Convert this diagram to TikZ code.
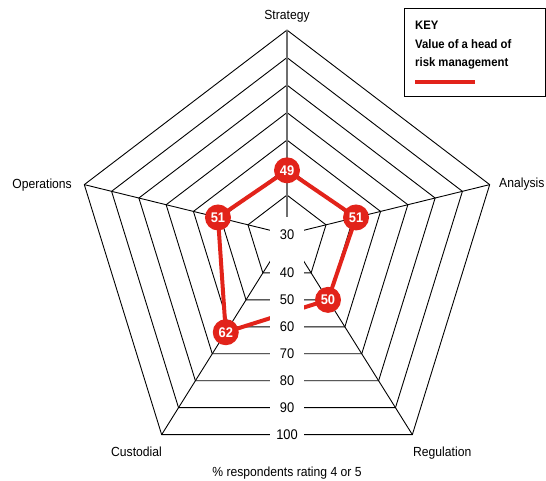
\documentclass[tikz,border=0pt]{standalone}
\usepackage{fontspec}
\setmainfont{Liberation Sans}
\newfontfamily\chartfont[FakeStretch=0.92]{Liberation Sans}
\usetikzlibrary{calc}
\definecolor{riskred}{RGB}{226,35,26}
\definecolor{axisgray}{RGB}{110,110,110}
\begin{document}
\begin{tikzpicture}[x=1pt,y=-1pt,
  ring/.style={draw=black, line width=0.9pt, line join=miter},
  axisline/.style={draw=black, line width=0.9pt},
  lvl/.style={fill=white, inner sep=0pt, minimum width=34pt, minimum height=27pt,
    font=\chartfont\fontsize{14}{16}\selectfont},
  marker/.style={circle, fill=riskred, minimum size=26pt, inner sep=0pt, text=white,
    font=\chartfont\bfseries\fontsize{14}{16}\selectfont},
  valueline/.style={draw=riskred, line width=4pt, line join=round},
  axlabel/.style={font=\chartfont\fontsize{13.2}{15}\selectfont, inner sep=0pt},
  keytext/.style={font=\chartfont\bfseries\fontsize{12.3}{14}\selectfont, inner sep=0pt, anchor=base west}]
\useasboundingbox (0,0) rectangle (546,480);

% origin of the radar (value 30) and unit steps along the five axes
\coordinate (P) at (287,234.4);
\coordinate (dT) at (0,-27.5);
\coordinate (dR) at (27.28,-6.7);
\coordinate (dBR) at (16.87,26.95);
\coordinate (dBL) at (-16.87,26.95);
\coordinate (dL) at (-27.28,-6.7);

% concentric level rings 40 ... 100
\foreach \v in {40,50,...,100}{
  \pgfmathsetmacro\s{(\v-30)/10+0.43}
  \draw[ring] ($(P)+\s*(dT)$) -- ($(P)+\s*(dR)$) -- ($(P)+\s*(dBR)$)
    -- ($(P)+\s*(dBL)$) -- ($(P)+\s*(dL)$) -- cycle;
}

% axis ends
\coordinate (aS) at ($(P)+7.43*(dT)$);
\coordinate (aA) at ($(P)+7.43*(dR)$);
\coordinate (aR) at ($(P)+7.43*(dBR)$);
\coordinate (aC) at ($(P)+7.43*(dBL)$);
\coordinate (aO) at ($(P)+7.43*(dL)$);
\draw[axisline] (P) -- (aA);
\draw[axisline] (P) -- (aR);
\draw[axisline] (P) -- (aC);
\draw[axisline] (P) -- (aO);
\draw[axisline, draw=axisgray, line width=1.5pt] (P) -- (aS);

% values of a head of risk management
\coordinate (vS) at ($(P)+2.33*(dT)$);
\coordinate (vA) at ($(P)+2.53*(dR)$);
\coordinate (vR) at ($(P)+2.43*(dBR)$);
\coordinate (vC) at ($(P)+3.63*(dBL)$);
\coordinate (vO) at ($(P)+2.53*(dL)$);
\draw[valueline] (vS) -- (vA) -- (vR) -- (vC) -- (vO) -- cycle;

% scale labels on the lower edges
\node[lvl, minimum height=0pt, text height=22pt, text depth=20pt, anchor=base]
  (l30) at ($(P)+(0,5)$) {30};
\foreach \v in {40,50,...,100}{
  \pgfmathsetmacro\s{(\v-30)/10+0.43}
  \node[lvl] (l\v) at ($(P)+\s*(0,26.95)$) {\v};
}

% value markers
\node[marker] (mS) at (vS) {49};
\node[marker] (mA) at (vA) {51};
\node[marker] (mR) at (vR) {50};
\node[marker] (mC) at (vC) {62};
\node[marker] (mO) at (vO) {51};

% axis names
\node[axlabel, anchor=base] (tS) at (287,19.5) {Strategy};
\node[axlabel, anchor=base west] (tA) at (499,187.5) {Analysis};
\node[axlabel, anchor=base east] (tO) at (72,188.5) {Operations};
\node[axlabel, anchor=base west] (tR) at (413,456.5) {Regulation};
\node[axlabel, anchor=base east] (tC) at (162,456.5) {Custodial};
\node[axlabel, anchor=base] (tX) at (287,476) {\% respondents rating 4 or 5};

% key
\draw[line width=0.9pt] (404,8.5) rectangle (545.5,96);
\node[keytext] (k1) at (415,29.3) {KEY};
\node[keytext] (k2) at (415,48.3) {Value of a head of};
\node[keytext] (k3) at (415,66.8) {risk management};
\coordinate (ks) at (415,81.5);
\coordinate (ke) at (475,81.5);
\draw[valueline, line cap=butt] (ks) -- (ke);
\end{tikzpicture}
\end{document}
